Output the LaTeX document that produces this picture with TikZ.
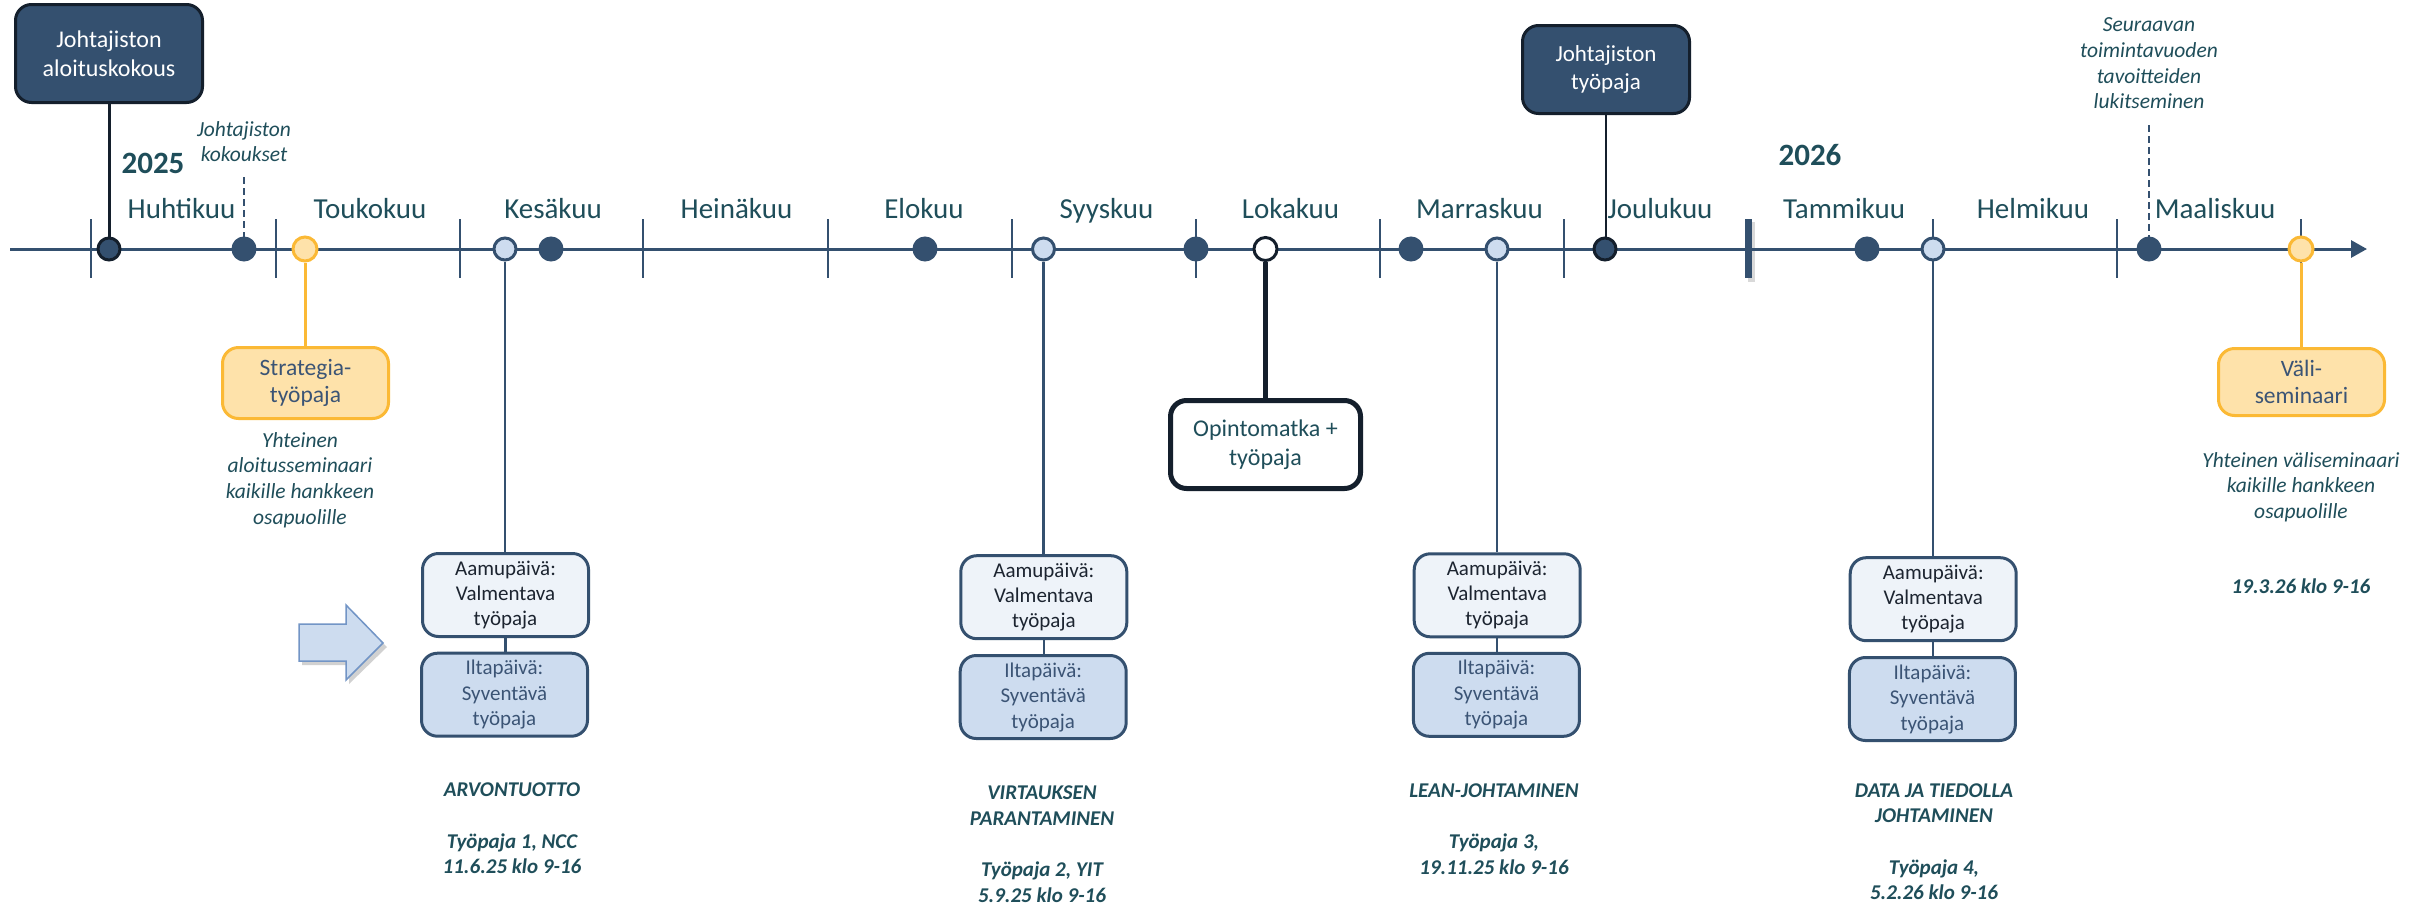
\documentclass[tikz,border=0pt]{standalone}
\usepackage{fontspec}
\setmainfont{Carlito}
\usetikzlibrary{arrows.meta}
\definecolor{navy}{HTML}{34506F}
\definecolor{blk}{HTML}{141F2C}
\definecolor{tealtxt}{HTML}{1F4E5A}
\definecolor{lblue}{HTML}{CDDCEF}
\definecolor{vlblue}{HTML}{EEF3F9}
\definecolor{orng}{HTML}{FBB935}
\definecolor{lorng}{HTML}{FEE2AA}
\definecolor{slate}{HTML}{3B5475}
\definecolor{aamutxt}{HTML}{1C2430}
\definecolor{arrbord}{HTML}{7295C6}
\tikzset{
  monthlbl/.style={font=\fontsize{29}{34}\selectfont, text=tealtxt, anchor=base, inner sep=0pt},
  yearlbl/.style={font=\fontsize{31}{36}\selectfont\bfseries, text=tealtxt, inner sep=0pt},
  notetxt/.style={font=\fontsize{21.5}{25.6}\selectfont\itshape, text=tealtxt, align=center, inner sep=0pt},
  wslbl/.style={font=\fontsize{21}{25.5}\selectfont\bfseries\itshape, text=tealtxt, align=center, inner sep=0pt},
  dotbase/.style={circle, inner sep=0pt, line width=3pt, minimum size=22pt},
  ndot/.style={dotbase, fill=navy, draw=navy},
  bdot/.style={dotbase, fill=navy, draw=blk},
  ldot/.style={dotbase, fill=lblue, draw=navy},
  odot/.style={dotbase, fill=lorng, draw=orng, minimum size=24pt},
  wdot/.style={dotbase, fill=white, draw=blk, minimum size=23pt},
  rbox/.style={rounded corners=16pt, align=center, inner sep=0pt, line width=3pt},
  darkbox/.style={rbox, fill=navy, draw=blk, text=white},
  aamubox/.style={rbox, fill=vlblue, draw=navy, text=aamutxt, minimum width=166pt, minimum height=83pt, font=\fontsize{21}{25}\selectfont},
  iltabox/.style={rbox, fill=lblue, draw=navy, text=slate, minimum width=166pt, minimum height=83pt, font=\fontsize{21}{25.5}\selectfont},
  orbox/.style={rbox, fill=lorng, draw=orng, text=slate, minimum width=166pt, font=\fontsize{23.5}{27.5}\selectfont},
  tickln/.style={navy, line width=2pt},
  conn/.style={navy, line width=2.5pt},
  oconn/.style={orng, line width=3pt},
  bconn/.style={blk, line width=3pt},
  dashconn/.style={navy, line width=2pt, dash pattern=on 7pt off 4pt}
}
\begin{document}
\begin{tikzpicture}[x=1pt,y=-1pt]
\fill[white] (0,0) rectangle (2417,905);
\path[use as bounding box] (0,0) rectangle (2417,905);

% ticks
\foreach \x in {91,275.5,460,643,827.5,1012,1196,1380,1564,1932.5,2117,2301}
  \draw[tickln] (\x,219) -- (\x,278);
% thick year separator
\fill[black, opacity=0.15] (1748,222) rectangle (1755,282);
\fill[navy] (1745,219) rectangle (1752,278);

% axis
\coordinate (axs) at (10,249);
\coordinate (axe) at (2367,249);
\draw[navy, line width=3pt, -{Triangle[length=16pt,width=17pt]}] (axs) -- (axe);

% month labels
\node[monthlbl] (m4) at (181.6,218) {Huhtikuu};
\node[monthlbl] (m5) at (370,218) {Toukokuu};
\node[monthlbl] (m6) at (553,218) {Kesäkuu};
\node[monthlbl] (m7) at (736.5,218) {Heinäkuu};
\node[monthlbl] (m8) at (924,218) {Elokuu};
\node[monthlbl] (m9) at (1106.5,218) {Syyskuu};
\node[monthlbl] (m10) at (1290.5,218) {Lokakuu};
\node[monthlbl] (m11) at (1479.5,218) {Marraskuu};
\node[monthlbl] (m12) at (1660,218) {Joulukuu};
\node[monthlbl] (m1) at (1844,218) {Tammikuu};
\node[monthlbl] (m2) at (2033,218) {Helmikuu};
\node[monthlbl] (m3) at (2215,218) {Maaliskuu};

% years
\node[yearlbl] (y25) at (153,163) {2025};
\node[yearlbl] (y26) at (1810,155) {2026};

% dots
\node[bdot] (d1) at (109,249) {};
\node[ndot] (d2) at (244,249) {};
\node[odot] (d3) at (305,249) {};
\node[ldot] (d4) at (505,249) {};
\node[ndot] (d5) at (551,249) {};
\node[ndot] (d6) at (925,249) {};
\node[ldot] (d7) at (1043.5,249) {};
\node[ndot] (d8) at (1196,249) {};
\node[wdot] (d9) at (1265.5,249) {};
\node[ndot] (d10) at (1411,249) {};
\node[ldot] (d11) at (1497,249) {};
\node[bdot] (d12) at (1605,249) {};
\node[ndot] (d13) at (1867,249) {};
\node[ldot] (d14) at (1933,249) {};
\node[ndot] (d15) at (2149,249) {};
\node[odot] (d16) at (2301,249) {};

% top boxes
\node[darkbox, minimum width=187pt, minimum height=98pt, font=\fontsize{24}{29}\selectfont] (b1) at (109,53.5) {Johtajiston\\aloituskokous};
\node[darkbox, minimum width=167pt, minimum height=88pt, font=\fontsize{23}{28.5}\selectfont] (b2) at (1606,69.5) {Johtajiston\\työpaja};

% notes
\node[notetxt] (n1) at (244,141.5) {Johtajiston\\kokoukset};
\node[notetxt] (n2) at (2149,63.5) {Seuraavan\\toimintavuoden\\tavoitteiden\\lukitseminen};
\node[notetxt] (n3) at (300,480) {Yhteinen\\aloitusseminaari\\kaikille hankkeen\\osapuolille};
\node[notetxt] (n4) at (2301,487) {Yhteinen väliseminaari\\kaikille hankkeen\\osapuolille};

% orange boxes
\node[orbox, minimum height=71pt] (strat) at (305.5,383) {Strategia-\\työpaja};
\node[orbox, minimum height=67pt] (vali) at (2301.5,382) {Väli-\\seminaari};

% study trip box
\node[rbox, fill=white, draw=blk, line width=5pt, text=tealtxt, minimum width=190pt, minimum height=88pt, font=\fontsize{24}{29}\selectfont] (opin) at (1265.5,444.5) {Opintomatka +\\työpaja};

% workshop boxes
\node[aamubox] (a1) at (505.5,595) {Aamupäivä:\\Valmentava\\työpaja};
\node[iltabox] (i1) at (504.5,694.7) {Iltapäivä:\\Syventävä\\työpaja};
\node[aamubox] (a2) at (1043.8,597.2) {Aamupäivä:\\Valmentava\\työpaja};
\node[iltabox] (i2) at (1043.2,697) {Iltapäivä:\\Syventävä\\työpaja};
\node[aamubox] (a3) at (1497.2,595.3) {Aamupäivä:\\Valmentava\\työpaja};
\node[iltabox] (i3) at (1496.4,694.8) {Iltapäivä:\\Syventävä\\työpaja};
\node[aamubox] (a4) at (1933.2,599.2) {Aamupäivä:\\Valmentava\\työpaja};
\node[iltabox] (i4) at (1932.4,699) {Iltapäivä:\\Syventävä\\työpaja};

% workshop labels
\node[wslbl] (l1) at (512,828.5) {ARVONTUOTTO\\[26pt]Työpaja 1, NCC\\11.6.25 klo 9-16};
\node[wslbl] (l2) at (1042,844) {VIRTAUKSEN\\PARANTAMINEN\\[26pt]Työpaja 2, YIT\\5.9.25 klo 9-16};
\node[wslbl] (l3) at (1494,829) {LEAN-JOHTAMINEN\\[26pt]Työpaja 3,\\19.11.25 klo 9-16};
\node[wslbl] (l4) at (1934,841.5) {DATA JA TIEDOLLA\\JOHTAMINEN\\[26pt]Työpaja 4,\\5.2.26 klo 9-16};
\node[wslbl] (l5) at (2301,586.7) {19.3.26 klo 9-16};

% connectors
\draw[bconn] (b1.south) -- (b1.south |- d1.north);
\draw[bconn, line width=2.5pt] (b2.south) -- (b2.south |- d12.north);
\coordinate (dk1) at (244,177);
\draw[dashconn] (dk1) -- (dk1 |- d2.north);
\coordinate (dk2) at (2149,125);
\draw[dashconn] (dk2) -- (dk2 |- d15.north);
\draw[oconn] (d3.south) -- (d3.south |- strat.north);
\draw[oconn] (d16.south) -- (d16.south |- vali.north);
\draw[blk, line width=5pt] (d9.south) -- (d9.south |- opin.north);
\draw[conn] (d4.south) -- (d4.south |- a1.north);
\draw[conn] (a1.south) -- (a1.south |- i1.north);
\draw[conn] (d7.south) -- (d7.south |- a2.north);
\draw[conn] (a2.south) -- (a2.south |- i2.north);
\draw[conn] (d11.south) -- (d11.south |- a3.north);
\draw[conn] (a3.south) -- (a3.south |- i3.north);
\draw[conn] (d14.south) -- (d14.south |- a4.north);
\draw[conn] (a4.south) -- (a4.south |- i4.north);

% block arrow
\fill[black, opacity=0.18] (302,628) -- (349,628) -- (349,609) -- (387,647) -- (349,684) -- (349,665) -- (302,665) -- cycle;
\draw[fill=lblue, draw=arrbord, line width=1.5pt] (299,624) -- (346,624) -- (346,605) -- (383,643) -- (346,680) -- (346,661) -- (299,661) -- cycle;
\end{tikzpicture}
\end{document}
